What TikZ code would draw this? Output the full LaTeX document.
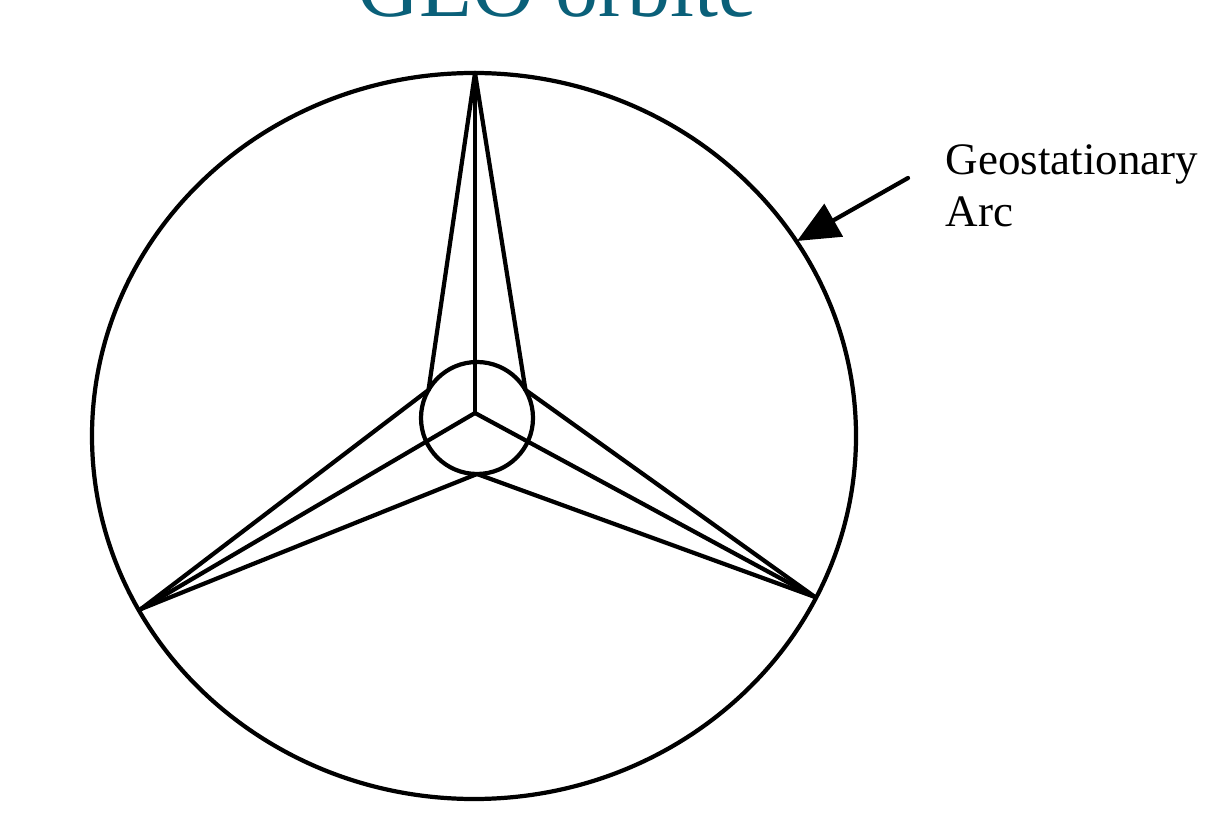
\documentclass[tikz,border=0pt]{standalone}
\usepackage{fontspec}
\setmainfont{Liberation Serif}
\usetikzlibrary{arrows.meta}
\definecolor{titleteal}{RGB}{10,96,121}
\begin{document}
\begin{tikzpicture}[x=0.01cm,y=-0.01cm,
  ln/.style={line width=1.2pt, line join=round, line cap=round},
  lbl/.style={anchor=base west, inner sep=0, font=\fontsize{12.8}{15}\selectfont}]
\useasboundingbox[fill=white] (0,0) rectangle (1216,816);
% title (cut off at top, as in the reference)
\node[anchor=base, inner sep=0, text=titleteal, font=\fontsize{24.5}{24.5}\selectfont] (title) at (557,17) {GEO orbite};
% geostationary arc
\draw[ln] (474,436) ellipse [x radius=382, y radius=363];
% earth
\coordinate (E) at (477,418);
\draw[ln] (E) circle [radius=56];
% vertices on the arc
\coordinate (T) at (475,73);
\coordinate (L) at (141,609);
\coordinate (R) at (815,597);
\coordinate (C) at (475,413);
% contact points on earth
\coordinate (P30) at (525.5,390);
\coordinate (P150) at (428.5,390);
\coordinate (P270) at (477,474);
% Y lines
\draw[ln] (C) -- (T);
\draw[ln] (C) -- (L);
\draw[ln] (C) -- (R);
% side lines
\draw[ln] (T) -- (P150);
\draw[ln] (T) -- (P30);
\draw[ln] (L) -- (P150);
\draw[ln] (L) -- (P270);
\draw[ln] (R) -- (P30);
\draw[ln] (R) -- (P270);
% label and arrow
\node[lbl] (geo) at (945,175) {Geostationary};
\node[lbl] (arc) at (945,227) {Arc};
\coordinate (A0) at (908,178);
\coordinate (A1) at (797,241);
\draw[ln, -{Triangle[length=12pt,width=10.5pt]}] (A0) -- (A1);
\end{tikzpicture}
\end{document}
